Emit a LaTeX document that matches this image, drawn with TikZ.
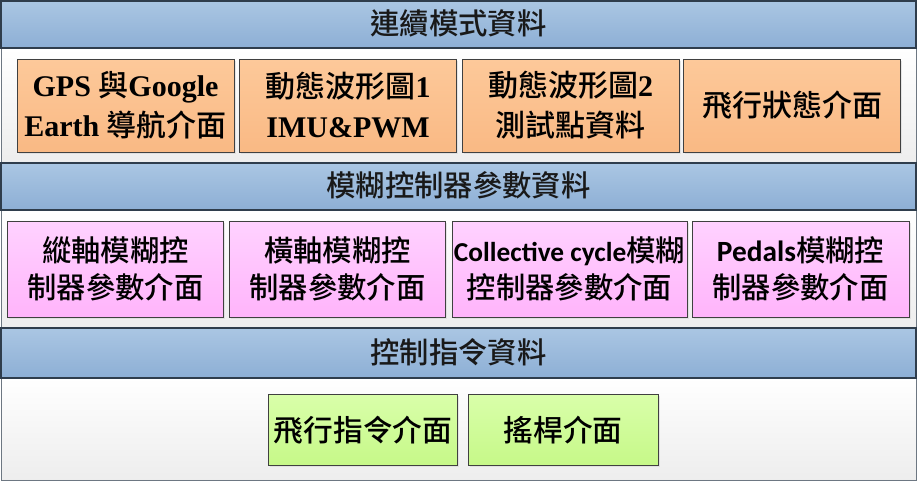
\documentclass[tikz,border=0pt]{standalone}
\usepackage{fontspec}
\usetikzlibrary{shadows}
\setmainfont{Liberation Serif}
\newfontfamily\zh{Noto Sans CJK TC}[BoldFont={Noto Sans CJK TC Medium}]
\newfontfamily\tnr{Liberation Serif}
\newfontfamily\clb{Carlito}
\definecolor{hdtop}{HTML}{AAC6E3}
\definecolor{hdbot}{HTML}{8DAFD5}
\definecolor{hdline}{HTML}{2F3D4C}
\definecolor{ortop}{HTML}{FDC99A}
\definecolor{orbot}{HTML}{F9B984}
\definecolor{pktop}{HTML}{FFD2FF}
\definecolor{pkbot}{HTML}{FFB4FB}
\definecolor{grtop}{HTML}{D9FFAA}
\definecolor{grbot}{HTML}{C6F888}

\begin{document}
\begin{tikzpicture}[x=0.75pt,y=-0.75pt,
  header/.style={draw=hdline,line width=1pt,top color=hdtop,bottom color=hdbot},
  panel/.style={draw=hdline!70,line width=0.6pt,top color=white,bottom color=black!7},
  cell/.style={draw=black!75,line width=0.6pt,align=center,inner sep=0pt,
    drop shadow={shadow xshift=1.2pt,shadow yshift=-1.2pt,fill=black!18}},
  obox/.style={cell,top color=ortop,bottom color=orbot,
    minimum width=217*0.75pt,minimum height=93*0.75pt,font=\fontsize{22.5}{30}\selectfont\bfseries},
  pbox/.style={cell,top color=pktop,bottom color=pkbot,
    minimum width=216*0.75pt,minimum height=96*0.75pt,font=\fontsize{22}{28}\selectfont\bfseries},
  gbox/.style={cell,top color=grtop,bottom color=grbot,
    minimum width=189*0.75pt,minimum height=71*0.75pt,font=\fontsize{22.3}{28}\selectfont\bfseries},
  htext/.style={font=\zh\fontsize{22}{26}\selectfont\bfseries,text=black!90}]
  \useasboundingbox (0,0) rectangle (920,482);

  % panels and header bars
  \draw[panel] (1,48) rectangle (916,163);
  \draw[panel] (1,210) rectangle (916,328);
  \draw[panel] (1,378) rectangle (916,480);
  \draw[header] (1,1) rectangle (916,48);
  \draw[header] (1,163) rectangle (916,210);
  \draw[header] (1,328) rectangle (916,378);

  % header titles
  \node[htext] (t1) at (458.5,23) {連續模式資料};
  \node[htext] (t2) at (458.5,185) {模糊控制器參數資料};
  \node[htext] (t3) at (458.5,352) {控制指令資料};

  % continuous mode data
  \node[obox] (gps) at (125.5,105.5) {{\tnr GPS }{\zh 與}{\tnr Google}\\{\tnr Earth }{\zh 導航介面}};
  \node[obox] (wave1) at (348,105.5) {{\zh 動態波形圖}{\tnr 1}\\{\tnr IMU\&PWM}};
  \node[obox] (wave2) at (570.5,105.5) {{\zh 動態波形圖}{\tnr 2}\\{\zh 測試點資料}};
  \node[obox] (state) at (792,105.5) {\zh 飛行狀態介面};

  % fuzzy controller parameters
  \node[pbox] (pitch) at (115.5,269) {\zh 縱軸模糊控\\\zh 制器參數介面};
  \node[pbox] (roll) at (337.5,269) {\zh 橫軸模糊控\\\zh 制器參數介面};
  \node[pbox,minimum width=235*0.75pt] (coll) at (569.5,269)
    {{\clb\fontsize{20.5}{28}\selectfont Collective cycle}{\zh 模糊}\\\zh 控制器參數介面};
  \node[pbox,minimum width=217*0.75pt] (pedal) at (800.5,269) {{\clb Pedals}{\zh 模糊控}\\\zh 制器參數介面};

  % control command data
  \node[gbox] (cmd) at (363,430) {\zh 飛行指令介面};
  \node[gbox,minimum width=190*0.75pt] (stick) at (563,430) {\zh 搖桿介面};
\end{tikzpicture}
\end{document}
